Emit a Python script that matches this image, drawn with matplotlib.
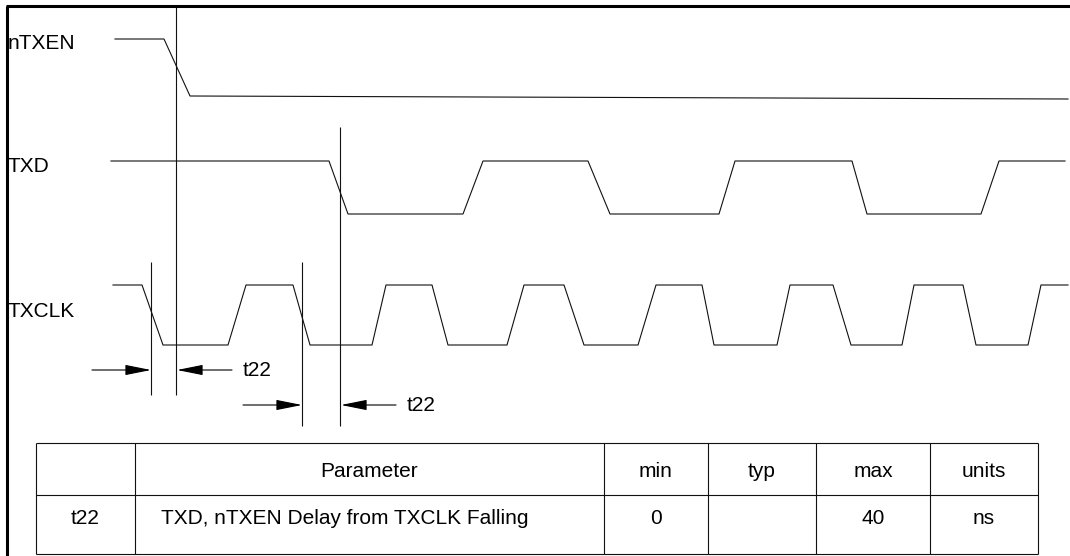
import matplotlib
matplotlib.use("Agg")
import matplotlib.pyplot as plt

plt.rcParams["font.family"] = ["Liberation Sans", "DejaVu Sans"]

# Signal waveforms (pixel-like coordinates: x = time, y = level, y grows downward)
ntxen_x = [115, 164, 190, 1068]
ntxen_y = [39, 39, 96, 99]

txd_start, txd_end = 111, 1065
txd_hi, txd_lo = 161, 214
# (start, end) of each transition, first one falling
txd_edges = [(329, 348), (463, 483), (588, 610), (719, 735), (852, 867), (981, 999)]

txclk_start, txclk_end = 113, 1068
txclk_hi, txclk_lo = 285, 345
txclk_edges = [(142, 163), (228, 246), (293, 310), (372, 386), (432, 448),
               (507, 524), (564, 584), (638, 656), (702, 714), (777, 790),
               (833, 851), (902, 914), (963, 976), (1028, 1041)]

signal_names = ["nTXEN", "TXD", "TXCLK"]
signal_label_y = [49, 172, 317]

# timing markers: x, top, bottom
marker_x = [151, 176, 302, 340]
marker_top = [262, 7, 262, 127]
marker_bot = [395, 395, 426, 426]

# t22 dimension rows: (left marker, right marker, y)
dim_rows = [(151, 176, 370), (302, 340, 405)]
dim_label = "t22"

# table
col_edges = [36, 135, 604, 708, 816, 930, 1038]
row_edges = [443, 495, 554]
header = ["", "Parameter", "min", "typ", "max", "units"]
row = ["t22", "TXD, nTXEN Delay from TXCLK Falling", "0", "", "40", "ns"]


def wave(start, end, hi, lo, edges):
    xs, ys = [start], [hi]
    level = hi
    for a, b in edges:
        nxt = lo if level == hi else hi
        xs += [a, b]
        ys += [level, nxt]
        level = nxt
    xs.append(end)
    ys.append(level)
    return xs, ys


fig = plt.figure(figsize=(10.7, 5.56), dpi=100)
ax = fig.add_axes([0, 0, 1, 1])
ax.set_xlim(0, 1070)
ax.set_ylim(556, 0)
ax.axis("off")

lw = 0.8
col = "#111111"

ax.plot(ntxen_x, ntxen_y, color=col, lw=lw)
xs, ys = wave(txd_start, txd_end, txd_hi, txd_lo, txd_edges)
ax.plot(xs, ys, color=col, lw=lw)
xs, ys = wave(txclk_start, txclk_end, txclk_hi, txclk_lo, txclk_edges)
ax.plot(xs, ys, color=col, lw=lw)

for name, y in zip(signal_names, signal_label_y):
    ax.text(8, y, name, fontsize=15, va="baseline", ha="left")

ax.vlines(marker_x, marker_top, marker_bot, color=col, lw=lw)

aprops = dict(arrowstyle="-|>,head_length=0.8,head_width=0.16",
              mutation_scale=20, color="black", lw=lw, shrinkA=0, shrinkB=0)
for left, right, y in dim_rows:
    ax.annotate("", xy=(left, y), xytext=(left - 59, y), arrowprops=aprops)
    ax.annotate("", xy=(right + 1, y), xytext=(right + 56, y), arrowprops=aprops)
    ax.text(right + 67, y + 6, dim_label, fontsize=15, va="baseline", ha="left")

# frame
ax.plot([7, 7], [6, 556], color="black", lw=2.2, solid_capstyle="butt")
ax.plot([6, 1070], [6, 6], color="black", lw=2.2, solid_capstyle="butt")

# table grid
ax.hlines(row_edges, col_edges[0], col_edges[-1], color=col, lw=lw)
ax.vlines(col_edges, row_edges[0], row_edges[-1], color=col, lw=lw)

header_y = 477
row_y = 524
for i, txt in enumerate(header):
    cx = (col_edges[i] + col_edges[i + 1]) / 2
    ax.text(cx, header_y, txt, fontsize=15, ha="center", va="baseline")
for i, txt in enumerate(row):
    cx = (col_edges[i] + col_edges[i + 1]) / 2
    if i == 1:
        ax.text(161, row_y, txt, fontsize=15, ha="left", va="baseline")
    else:
        ax.text(cx, row_y, txt, fontsize=15, ha="center", va="baseline")

fig.savefig("out.png", dpi=100)
